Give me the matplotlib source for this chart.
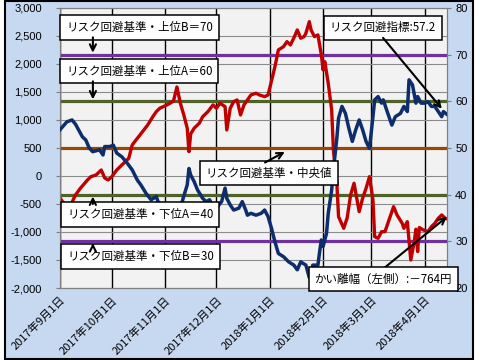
import numpy as np
import pandas as pd
import matplotlib
matplotlib.use("Agg")
import matplotlib.pyplot as plt
from matplotlib.patches import Rectangle

plt.rcParams['font.family'] = ['Noto Sans CJK JP', 'DejaVu Sans']

# リスク回避指標 (右軸)
risk_dates = ['2017-09-01', '2017-09-05', '2017-09-08', '2017-09-10', '2017-09-14', '2017-09-16',
              '2017-09-18', '2017-09-20', '2017-09-24', '2017-09-26', '2017-09-27', '2017-09-30',
              '2017-10-02', '2017-10-04', '2017-10-07', '2017-10-10', '2017-10-13', '2017-10-16',
              '2017-10-18', '2017-10-21', '2017-10-24', '2017-10-27', '2017-10-28', '2017-10-30',
              '2017-11-02', '2017-11-04', '2017-11-06', '2017-11-08', '2017-11-10', '2017-11-12',
              '2017-11-14', '2017-11-15', '2017-11-16', '2017-11-18', '2017-11-20', '2017-11-23',
              '2017-11-25', '2017-11-27', '2017-11-29', '2017-12-01', '2017-12-04', '2017-12-06',
              '2017-12-07', '2017-12-09', '2017-12-11', '2017-12-14', '2017-12-16', '2017-12-18',
              '2017-12-19', '2017-12-21', '2017-12-24', '2017-12-27', '2017-12-29', '2017-12-31',
              '2018-01-02', '2018-01-04', '2018-01-06', '2018-01-09', '2018-01-12', '2018-01-15',
              '2018-01-17', '2018-01-19', '2018-01-22', '2018-01-24', '2018-01-26', '2018-01-29',
              '2018-01-30', '2018-01-31', '2018-02-01', '2018-02-03', '2018-02-04', '2018-02-06',
              '2018-02-07', '2018-02-09', '2018-02-10', '2018-02-12', '2018-02-14', '2018-02-16',
              '2018-02-18', '2018-02-20', '2018-02-22', '2018-02-24', '2018-02-26', '2018-02-28',
              '2018-03-02', '2018-03-03', '2018-03-05', '2018-03-07', '2018-03-08', '2018-03-10',
              '2018-03-13', '2018-03-15', '2018-03-18', '2018-03-20', '2018-03-22', '2018-03-23',
              '2018-03-25', '2018-03-27', '2018-03-28', '2018-03-30', '2018-04-01', '2018-04-03',
              '2018-04-05', '2018-04-07', '2018-04-09', '2018-04-11', '2018-04-12', '2018-04-14']
risk_vals = [53.9, 55.6, 56.0, 55.1, 52.4, 51.7,
             50.0, 49.2, 49.6, 48.5, 50.3, 50.3,
             50.6, 48.9, 48.1, 46.8, 45.3, 43.1,
             42.1, 40.3, 38.9, 39.6, 38.5, 37.8,
             37.4, 37.1, 36.7, 35.6, 37.1, 39.7,
             42.1, 45.6, 44.2, 42.8, 41.0, 39.2,
             38.5, 38.9, 37.4, 37.1, 38.5, 41.4,
             39.2, 37.8, 36.7, 37.1, 38.5, 36.7,
             35.6, 36.0, 35.6, 36.0, 36.7, 35.3,
             32.8, 29.9, 27.4, 26.7, 25.6, 24.9,
             23.9, 25.6, 24.9, 22.2, 24.9, 24.9,
             27.8, 30.3, 28.9, 31.7, 36.0, 41.0,
             45.3, 52.1, 56.4, 58.9, 57.4, 54.2,
             51.4, 53.9, 56.0, 53.9, 51.4, 49.9,
             56.7, 60.3, 61.0, 59.6, 60.3, 58.1,
             54.9, 56.7, 57.4, 58.9, 57.8, 64.6,
             63.5, 59.6, 61.0, 59.6, 59.6, 59.9,
             58.9, 58.9, 57.8, 56.7, 57.8, 57.2]

# かい離幅 (左軸, 円)
gap_dates = ['2017-09-01', '2017-09-05', '2017-09-07', '2017-09-10', '2017-09-13', '2017-09-17',
             '2017-09-19', '2017-09-22', '2017-09-25', '2017-09-27', '2017-09-29', '2017-10-01',
             '2017-10-04', '2017-10-08', '2017-10-11', '2017-10-13', '2017-10-16', '2017-10-19',
             '2017-10-22', '2017-10-25', '2017-10-27', '2017-10-29', '2017-11-01', '2017-11-04',
             '2017-11-06', '2017-11-08', '2017-11-10', '2017-11-12', '2017-11-14', '2017-11-15',
             '2017-11-16', '2017-11-18', '2017-11-21', '2017-11-23', '2017-11-26', '2017-11-29',
             '2017-12-01', '2017-12-03', '2017-12-06', '2017-12-07', '2017-12-09', '2017-12-11',
             '2017-12-13', '2017-12-15', '2017-12-17', '2017-12-19', '2017-12-21', '2017-12-24',
             '2017-12-26', '2017-12-29', '2017-12-31', '2018-01-02', '2018-01-04', '2018-01-06',
             '2018-01-09', '2018-01-11', '2018-01-13', '2018-01-15', '2018-01-17', '2018-01-19',
             '2018-01-21', '2018-01-22', '2018-01-24', '2018-01-25', '2018-01-27', '2018-01-29',
             '2018-01-31', '2018-02-01', '2018-02-02', '2018-02-04', '2018-02-06', '2018-02-07',
             '2018-02-09', '2018-02-10', '2018-02-13', '2018-02-15', '2018-02-17', '2018-02-19',
             '2018-02-22', '2018-02-24', '2018-02-26', '2018-02-28', '2018-03-02', '2018-03-03',
             '2018-03-05', '2018-03-07', '2018-03-09', '2018-03-11', '2018-03-14', '2018-03-16',
             '2018-03-19', '2018-03-20', '2018-03-22', '2018-03-24', '2018-03-26', '2018-03-27',
             '2018-03-28', '2018-03-29', '2018-03-31', '2018-04-03', '2018-04-05', '2018-04-07',
             '2018-04-09', '2018-04-11', '2018-04-13', '2018-04-14']
gap_vals = [-393, -571, -536, -339, -214, -71,
            -12, 18, 107, -36, -71, -18,
            107, 227, 316, 554, 673, 791,
            911, 1059, 1148, 1209, 1250, 1298,
            1339, 1589, 1298, 1089, 852, 434,
            750, 852, 941, 1059, 1148, 1268,
            1209, 1298, 1238, 821, 1209, 1327,
            1357, 1089, 1268, 1357, 1446, 1477,
            1446, 1416, 1446, 1696, 1952, 2250,
            2309, 2398, 2339, 2464, 2607, 2459,
            2488, 2548, 2755, 2607, 2488, 2518,
            2161, 1893, 2041, 1655, 1179, 464,
            -125, -727, -934, -750, -339, -130,
            -637, -398, -220, -12, -429, -1084,
            -1113, -995, -995, -816, -548, -696,
            -845, -934, -816, -1500, -1180, -950,
            -1350, -920, -960, -995, -905, -845,
            -755, -696, -755, -764]

# リスク回避基準 (右軸)
ref_levels = [70, 60, 50, 40, 30]
ref_colors = ['#7030A0', '#4F6228', '#984806', '#4F6228', '#7030A0']

month_ticks = ['2017-09-01', '2017-10-01', '2017-11-01', '2017-12-01',
               '2018-01-01', '2018-02-01', '2018-03-01', '2018-04-01']
month_labels = ['2017年9月1日', '2017年10月1日', '2017年11月1日', '2017年12月1日',
                '2018年1月1日', '2018年2月1日', '2018年3月1日', '2018年4月1日']

left_ticks = list(range(-2000, 3001, 500))
right_ticks = list(range(20, 81, 10))

fig = plt.figure(figsize=(4.8, 3.6), dpi=100)
fig.patch.set_facecolor('white')
fig.patches.append(Rectangle((0.011, 0.003), 0.975, 0.994, transform=fig.transFigure,
                             facecolor='#C6D9F1', edgecolor='black', linewidth=1.5, zorder=-10))

ax = fig.add_axes([0.125, 0.2, 0.806, 0.778])
ax.set_facecolor('#F2F2F2')
ax2 = ax.twinx()

x_risk = pd.to_datetime(risk_dates)
x_gap = pd.to_datetime(gap_dates)

ax.set_xlim(pd.Timestamp('2017-09-01'), pd.Timestamp('2018-04-14'))
ax.set_ylim(-2000, 3000)
ax2.set_ylim(20, 80)

ax.set_yticks(left_ticks)
ax.set_yticklabels([f"{v:,}" for v in left_ticks], family='Liberation Sans', fontsize=8)
ax2.set_yticks(right_ticks)
ax2.set_yticklabels([str(v) for v in right_ticks], family='Liberation Sans', fontsize=8)
ax.set_xticks(pd.to_datetime(month_ticks))
ax.set_xticklabels(month_labels, rotation=45, ha='right', rotation_mode='anchor', fontsize=8)

ax.grid(axis='y', color='#8C8C8C', linewidth=0.8)
ax.grid(axis='x', color='black', linewidth=1)
ax.set_axisbelow(True)
ax.tick_params(axis='y', length=3, pad=10, color='#808080')
ax.tick_params(axis='x', length=0, pad=5)
ax2.tick_params(axis='y', length=3, pad=3, color='#808080')
for sp in list(ax.spines.values()) + list(ax2.spines.values()):
    sp.set_color('#808080')
    sp.set_linewidth(0.8)

for lv, c in zip(ref_levels, ref_colors):
    ax2.axhline(lv, color=c, linewidth=2.3, zorder=1)

# red on left scale, drawn within ax2 so it sits above the reference lines
ax2.plot(x_gap, gap_vals, color='#C00000', linewidth=2.4, zorder=2, transform=ax.transData)
ax2.plot(x_risk, risk_vals, color='#0D2D6C', linewidth=2.5, zorder=3)

box = dict(boxstyle='square,pad=0.5', facecolor='white', edgecolor='black', linewidth=1.1)
arr = dict(arrowstyle='->', color='black', lw=1.5, mutation_scale=11, shrinkA=0, shrinkB=0)
fc = ('axes fraction', 'data')
ta = ax2.transAxes
fs = 8.3

ax2.text(0.016, 0.931, 'リスク回避基準・上位B＝70', fontsize=fs, va='center', bbox=box, zorder=5, transform=ta)
ax2.annotate('', xy=(0.085, 70.4), xycoords=fc, xytext=(0.085, 0.895),
             textcoords='axes fraction', arrowprops=arr, zorder=5)
ax2.text(0.016, 0.774, 'リスク回避基準・上位A＝60', fontsize=fs, va='center', bbox=box, zorder=5, transform=ta)
ax2.annotate('', xy=(0.085, 60.4), xycoords=fc, xytext=(0.085, 0.738),
             textcoords='axes fraction', arrowprops=arr, zorder=5)
ax2.text(0.018, 0.263, 'リスク回避基準・下位A＝40', fontsize=fs, va='center', bbox=box, zorder=5, transform=ta)
ax2.annotate('', xy=(0.085, 39.6), xycoords=fc, xytext=(0.085, 0.30),
             textcoords='axes fraction', arrowprops=arr, zorder=5)
ax2.text(0.018, 0.113, 'リスク回避基準・下位B＝30', fontsize=fs, va='center', bbox=box, zorder=5, transform=ta)
ax2.annotate('', xy=(0.085, 29.6), xycoords=fc, xytext=(0.085, 0.15),
             textcoords='axes fraction', arrowprops=arr, zorder=5)
ax2.text(0.377, 0.411, 'リスク回避基準・中央値', fontsize=fs, va='center', bbox=box, zorder=5, transform=ta)
ax2.annotate('', xy=(0.581, 0.486), xycoords='axes fraction', xytext=(0.530, 0.448),
             textcoords='axes fraction', arrowprops=arr, zorder=5)
ax2.text(0.697, 0.929, 'リスク回避指標:57.2', fontsize=fs, va='center', bbox=box, zorder=5, transform=ta)
ax2.annotate('', xy=(0.987, 0.640), xycoords='axes fraction', xytext=(0.835, 0.893),
             textcoords='axes fraction', arrowprops=arr, zorder=5)
ax2.text(0.658, 0.032, 'かい離幅（左側）:－764円', fontsize=fs, va='center', bbox=box, zorder=6, transform=ta)
ax2.annotate('', xy=(1.0, 0.254), xycoords='axes fraction', xytext=(0.835, 0.068),
             textcoords='axes fraction', arrowprops=arr, zorder=5)

fig.savefig('out.png', dpi=100)
